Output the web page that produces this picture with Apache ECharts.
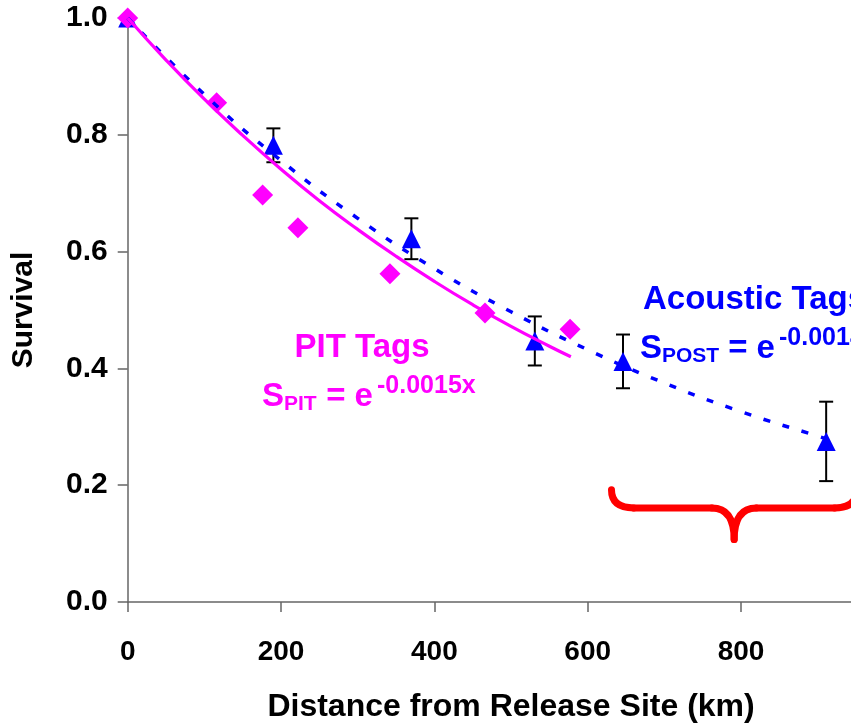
<!DOCTYPE html>
<html>
<head>
<meta charset="utf-8">
<script src="https://cdn.jsdelivr.net/npm/echarts@6/dist/echarts.min.js"></script>
<style>
  html, body { margin: 0; padding: 0; background: #fff; }
  #chart { width: 851px; height: 725px; }
</style>
</head>
<body>
<div id="chart"></div>
<script>
// PIT tag detections: river km and survival estimate
const pitKm = [0, 116, 176, 222, 342, 466, 577];
const pitSurvival = [1.0, 0.855, 0.697, 0.641, 0.562, 0.495, 0.467];

// Acoustic tag detections: river km, survival and standard error
const acousticKm = [0, 190, 370, 531, 646, 911];
const acousticSurvival = [1.0, 0.782, 0.622, 0.447, 0.412, 0.275];
const acousticSE = [0, 0.029, 0.035, 0.042, 0.046, 0.068];

// Fitted exponential curves
const pitFitKm = [0, 50, 100, 150, 200, 250, 300, 350, 400, 450, 500, 550, 578];
const pitFitSurvival = [1.0, 0.928, 0.861, 0.799, 0.741, 0.687, 0.638, 0.592, 0.549, 0.509, 0.472, 0.438, 0.420];
const acousticFitKm = [0, 100, 200, 300, 400, 500, 600, 700, 800, 900, 910];
const acousticFitSurvival = [1.0, 0.869, 0.756, 0.657, 0.571, 0.497, 0.432, 0.375, 0.326, 0.284, 0.280];

// Axis ticks
const xTicks = [0, 200, 400, 600, 800, 1000];
const yTicks = [0, 0.2, 0.4, 0.6, 0.8, 1.0];

const FONT = '"Liberation Sans", Arial, sans-serif';
const MAGENTA = '#ff00ff';
const BLUE = '#0000ff';

const zip = (a, b) => a.map((v, i) => [v, b[i]]);

const chart = echarts.init(document.getElementById('chart'), null, { renderer: 'canvas' });

const option = {
  backgroundColor: '#ffffff',
  animation: false,
  grid: { left: 127.7, top: 18, width: 766.7, height: 584, containLabel: false, outerBoundsMode: 'none' },
  xAxis: {
    type: 'value',
    min: xTicks[0],
    max: xTicks[xTicks.length - 1],
    interval: 200,
    name: 'Distance from Release Site (km)',
    nameLocation: 'middle',
    nameGap: 89,
    nameTextStyle: { fontFamily: FONT, fontWeight: 'bold', fontSize: 32, color: '#000' },
    axisLine: { lineStyle: { color: '#666', width: 1.5 } },
    axisTick: { show: true, length: 10, lineStyle: { color: '#666', width: 1.5 } },
    axisLabel: { margin: 36, fontFamily: FONT, fontWeight: 'bold', fontSize: 28, color: '#000' },
    splitLine: { show: false }
  },
  yAxis: {
    type: 'value',
    min: yTicks[0],
    max: yTicks[yTicks.length - 1],
    interval: 0.2,
    name: 'Survival',
    nameLocation: 'middle',
    nameGap: 89,
    nameTextStyle: { fontFamily: FONT, fontWeight: 'bold', fontSize: 30, color: '#000' },
    axisLine: { show: true, lineStyle: { color: '#666', width: 1.5 } },
    axisTick: { show: true, length: 10, lineStyle: { color: '#666', width: 1.5 } },
    axisLabel: {
      margin: 20, fontFamily: FONT, fontWeight: 'bold', fontSize: 30, color: '#000',
      formatter: v => v.toFixed(1)
    },
    splitLine: { show: false }
  },
  series: [
    {
      name: 'Acoustic SE',
      type: 'custom',
      z: 2,
      data: acousticKm.map((k, i) => [k, acousticSurvival[i] - acousticSE[i], acousticSurvival[i] + acousticSE[i], acousticSE[i]]),
      renderItem: function (params, api) {
        if (api.value(3) === 0) return null;
        const lo = api.coord([api.value(0), api.value(1)]);
        const hi = api.coord([api.value(0), api.value(2)]);
        const cap = 7;
        const style = { stroke: '#000', lineWidth: 2 };
        return {
          type: 'group',
          children: [
            { type: 'line', shape: { x1: lo[0], y1: lo[1], x2: hi[0], y2: hi[1] }, style },
            { type: 'line', shape: { x1: lo[0] - cap, y1: lo[1], x2: lo[0] + cap, y2: lo[1] }, style },
            { type: 'line', shape: { x1: hi[0] - cap, y1: hi[1], x2: hi[0] + cap, y2: hi[1] }, style }
          ]
        };
      }
    },
    {
      name: 'Acoustic Tags',
      type: 'scatter',
      z: 3,
      symbol: 'triangle',
      symbolSize: [19, 19],
      itemStyle: { color: BLUE, opacity: 1 },
      data: zip(acousticKm, acousticSurvival)
    },
    {
      name: 'PIT Tags',
      type: 'scatter',
      z: 4,
      symbol: 'diamond',
      symbolSize: [21, 21],
      itemStyle: { color: MAGENTA, opacity: 1 },
      data: zip(pitKm, pitSurvival)
    },
    {
      name: 'Acoustic fit',
      type: 'line',
      z: 5,
      showSymbol: false,
      smooth: true,
      lineStyle: { color: BLUE, width: 3.5, type: [7, 13], cap: 'butt' },
      data: zip(acousticFitKm, acousticFitSurvival)
    },
    {
      name: 'PIT fit',
      type: 'line',
      z: 6,
      showSymbol: false,
      smooth: true,
      lineStyle: { color: MAGENTA, width: 3.2 },
      data: zip(pitFitKm, pitFitSurvival)
    }
  ]
};

chart.setOption(option);

// Annotations: equation labels and the bracket under the downstream reach
function txt(text, x, y, size, color, align) {
  return {
    type: 'text', x: x, y: y, z: 20,
    style: {
      text: text, fill: color, textAlign: align || 'left', textVerticalAlign: 'middle',
      font: 'bold ' + size + 'px ' + FONT
    }
  };
}

const p = (km, s) => chart.convertToPixel({ gridIndex: 0 }, [km, s]);
const braceStyle = { fill: null, stroke: '#ff0000', lineWidth: 7, lineCap: 'round', lineJoin: 'round' };
function curve(a, c, b) {
  return {
    type: 'bezierCurve', z: 20,
    shape: { x1: a[0], y1: a[1], cpx1: c[0], cpy1: c[1], x2: b[0], y2: b[1] },
    style: braceStyle
  };
}
function seg(a, b) {
  return {
    type: 'line', z: 20,
    shape: { x1: a[0], y1: a[1], x2: b[0], y2: b[1] },
    style: braceStyle
  };
}
const bL = p(631, 0.192), bLc = p(631, 0.161), bLh = p(660, 0.161);
const bMh1 = p(762, 0.161), bMc = p(791, 0.161), bM = p(791, 0.107);
const bMh2 = p(820, 0.161), bRh = p(922, 0.161), bRc = p(951, 0.161), bR = p(951, 0.192);

chart.setOption({
  graphic: [
    txt('PIT Tags', 362, 348, 33, MAGENTA, 'center'),
    txt('S', 262, 397, 33, MAGENTA),
    txt('PIT', 284, 404, 21, MAGENTA),
    txt(' = e', 317, 397, 33, MAGENTA),
    txt('-0.0015x', 377, 386, 25, MAGENTA),
    txt('Acoustic Tags', 643, 300, 33, BLUE),
    txt('S', 640, 349, 33, BLUE),
    txt('POST', 662, 356, 21, BLUE),
    txt(' = e', 719, 349, 33, BLUE),
    txt('-0.0014x', 779, 338, 25, BLUE),
    curve(bL, bLc, bLh),
    seg(bLh, bMh1),
    curve(bMh1, bMc, bM),
    curve(bM, bMc, bMh2),
    seg(bMh2, bRh),
    curve(bRh, bRc, bR)
  ]
});
</script>
</body>
</html>
